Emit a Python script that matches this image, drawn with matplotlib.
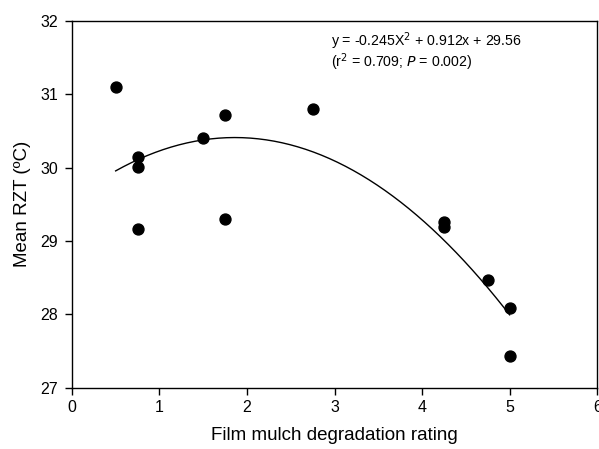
import matplotlib
matplotlib.use('Agg')
import matplotlib.pyplot as plt
import numpy as np

plt.rcParams['font.family'] = ['Liberation Sans', 'DejaVu Sans']

rating = [0.5, 0.75, 0.75, 0.75, 1.5, 1.75, 1.75, 2.75, 4.25, 4.25, 4.75, 5.0, 5.0]
rzt = [31.09, 30.15, 30.01, 29.17, 30.40, 30.72, 29.30, 30.80, 29.26, 29.19, 28.47, 28.09, 27.44]
coef = [-0.245, 0.912, 29.56]
x_ticks = [0, 1, 2, 3, 4, 5, 6]
y_ticks = [27, 28, 29, 30, 31, 32]


def main():
    fig = plt.figure(figsize=(5.99, 4.49), dpi=100)
    ax = fig.add_axes([0.12, 0.136, 0.877, 0.818])

    xs = np.linspace(min(rating), max(rating), 200)
    ax.plot(xs, np.polyval(coef, xs), color='black', lw=1.0)
    ax.scatter(rating, rzt, s=62, color='black', zorder=3)

    ax.set_xlim(0, 6)
    ax.set_ylim(27, 32)
    ax.set_xticks(x_ticks)
    ax.set_yticks(y_ticks)
    ax.tick_params(direction='out', length=5, width=1, labelsize=11.5)
    ax.tick_params(axis='y', pad=5)
    ax.tick_params(axis='x', pad=4)
    for s in ax.spines.values():
        s.set_linewidth(1.0)

    ax.set_xlabel('Film mulch degradation rating', fontsize=13.5, labelpad=8)
    ax.set_ylabel('Mean RZT (ºC)', fontsize=13.5, labelpad=7)

    ax.text(2.96, 31.58, 'y = -0.245X$^{2}$ + 0.912x + 29.56\n'
            '(r$^{2}$ = 0.709; $\\it{P}$ = 0.002)',
            fontsize=10.2, va='center', ha='left', linespacing=0.95)

    fig.savefig('out.png', dpi=100)


if __name__ == '__main__':
    main()
